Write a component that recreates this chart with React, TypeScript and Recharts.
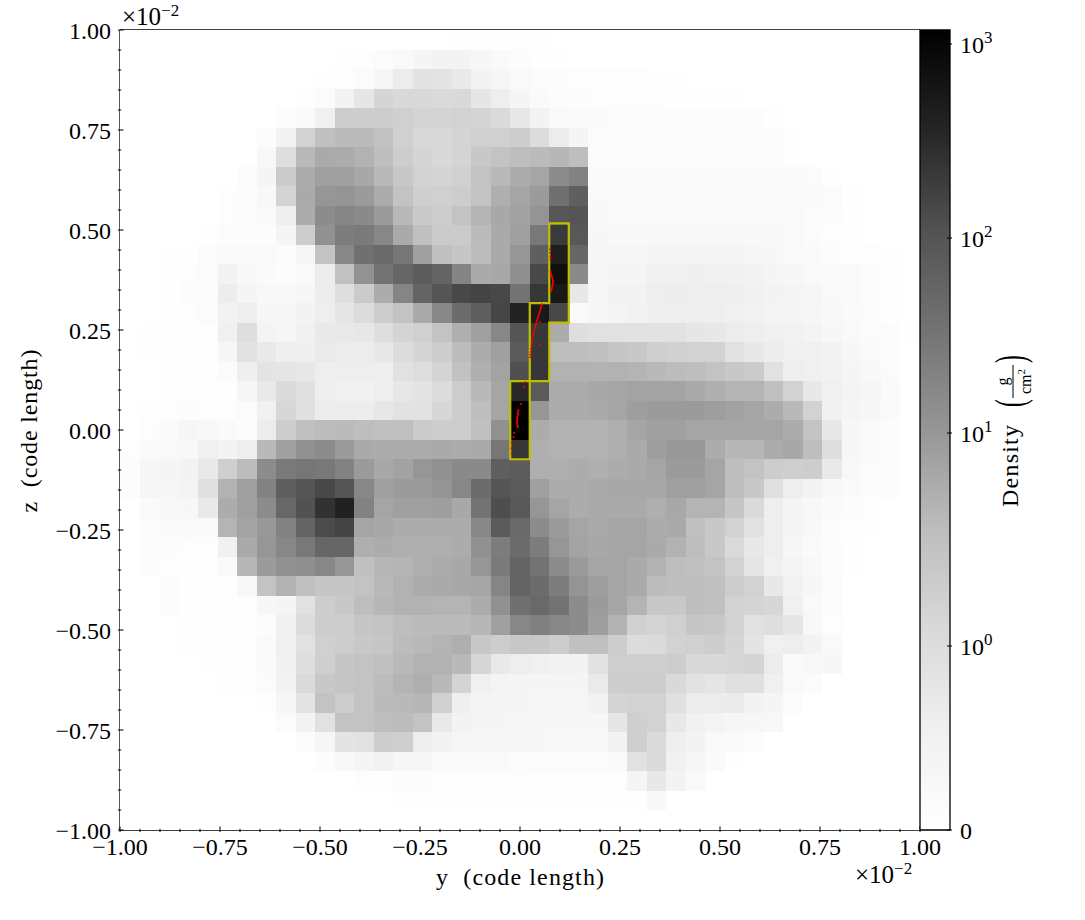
import React from 'react';
import { ScatterChart, Scatter, XAxis, YAxis, ReferenceArea } from 'recharts';

// grey level of each cell (255 = white); top row first,
// rows stop once the rest of the row is blank
const shadeRows: number[][] = [
  [255,255,255,255,255,255,255,255,255,255,255,255,255,255,255,255,255,254,254,254,254,254],
  [255,255,255,255,255,255,255,255,255,255,255,254,253,251,249,245,243,243,247,250,252,254,254],
  [255,255,255,255,255,255,255,255,255,255,254,253,251,246,236,226,228,233,243,246,249,251,252,253,253,253,253,254,254],
  [255,255,255,255,255,255,255,255,255,254,251,243,230,213,217,217,218,217,230,238,245,250,252,252,253,253,253,253,254,254,254,254],
  [255,255,255,255,255,255,255,255,252,250,240,205,205,205,208,212,212,210,213,218,231,243,249,250,250,252,252,252,252,252,252,252,252,254],
  [255,255,255,255,255,255,255,252,243,210,192,187,187,193,208,217,217,212,208,208,205,220,236,245,251,251,251,251,251,251,251,251,251,251,254],
  [255,255,255,255,255,255,255,248,222,185,170,172,178,190,205,213,217,212,200,195,190,187,183,190,251,251,251,251,251,251,251,251,251,251,254],
  [255,255,255,255,255,255,251,245,203,172,160,160,168,185,200,210,213,208,195,185,172,165,140,130,250,250,250,250,250,250,250,250,250,250,250,251,254],
  [255,255,255,255,255,253,252,248,212,170,150,148,155,172,195,207,208,205,195,175,165,155,112,95,249,249,249,249,249,249,249,249,249,249,249,250,251,254],
  [255,255,255,255,255,253,252,250,238,172,140,133,138,155,185,202,205,195,180,168,162,148,87,85,248,249,249,249,249,249,249,249,249,249,249,251,252,254],
  [255,255,255,255,254,252,252,252,245,205,145,125,122,135,170,192,203,203,187,170,160,120,58,88,247,248,248,248,248,248,248,248,248,248,249,251,253,254],
  [255,255,254,254,251,250,249,249,251,246,195,135,112,105,118,160,192,198,188,170,150,95,30,102,246,246,246,245,245,245,245,245,246,247,249,250,252,253,253,254],
  [255,255,254,253,251,243,248,250,252,249,236,193,146,115,102,92,100,132,170,168,143,72,15,138,246,245,245,241,240,239,240,241,242,245,247,249,250,250,252,254],
  [255,255,254,252,251,237,245,248,248,247,237,222,203,172,133,100,85,72,68,72,115,55,25,232,247,243,242,238,237,238,238,239,241,243,245,246,249,250,252,254],
  [255,255,254,253,251,242,238,247,246,243,238,229,220,205,195,170,135,108,95,70,35,25,72,249,247,244,242,239,238,238,238,240,242,244,245,246,248,250,251,254],
  [255,254,254,253,253,240,222,244,246,241,233,233,231,222,212,208,195,175,160,135,85,55,172,222,225,225,226,226,226,230,232,236,238,240,242,244,247,249,251,252,254],
  [255,254,254,254,254,247,226,233,239,239,234,236,236,231,220,213,205,188,172,160,90,55,190,190,192,198,200,207,209,210,210,225,232,237,240,240,242,247,249,252],
  [255,255,254,254,254,251,239,228,229,232,238,238,238,238,225,221,212,193,175,163,80,55,178,178,178,178,180,185,188,190,195,200,203,225,238,240,242,245,248,251],
  [255,255,254,254,254,254,246,233,218,224,238,240,241,238,231,228,220,204,185,165,40,90,172,172,168,165,163,163,163,170,175,180,180,192,210,232,240,244,246,250],
  [255,254,253,252,253,253,251,241,215,224,236,236,237,231,226,226,215,205,190,165,2,150,172,172,170,165,158,155,155,155,158,162,165,172,185,210,241,245,247,250],
  [255,253,250,246,248,250,252,236,205,192,188,187,190,192,192,203,205,205,192,145,0,172,178,178,178,175,165,160,160,165,165,165,165,165,172,195,232,247,250,252],
  [253,250,249,248,240,243,238,185,160,145,140,155,170,172,172,172,170,172,170,118,55,175,178,178,178,175,170,158,152,152,172,183,183,172,168,190,222,247,250,252],
  [252,246,245,243,233,207,188,140,122,118,120,130,155,168,162,150,145,138,138,95,92,175,175,172,175,172,170,165,155,155,165,190,195,205,207,205,233,248,251,252],
  [252,246,246,244,224,178,160,130,95,85,72,85,135,160,155,155,148,135,108,85,90,160,172,172,170,168,168,168,160,160,165,190,200,223,238,243,248,250,252,252],
  [255,250,248,247,233,172,160,140,103,82,50,33,130,165,160,160,158,168,115,78,88,150,165,172,170,170,170,175,168,180,180,198,218,238,245,248,250,252,253],
  [255,251,250,249,250,180,163,152,130,100,75,68,165,168,172,172,172,172,135,90,105,140,155,165,170,165,165,172,170,192,200,210,225,238,245,248,252,253,253],
  [255,252,252,253,253,241,170,150,135,120,102,102,175,172,175,175,175,172,145,125,108,125,150,163,168,165,165,170,178,190,200,218,232,238,246,250,252,254],
  [255,252,253,253,253,250,183,155,145,143,135,150,192,183,180,175,172,168,150,122,100,115,140,155,165,165,170,178,190,192,195,210,230,240,244,248,252,254],
  [255,255,252,254,254,254,248,195,178,192,198,198,195,185,178,172,170,168,165,133,100,108,125,148,158,165,170,188,190,190,192,205,210,232,242,247,252],
  [255,255,252,254,254,254,253,247,245,225,205,200,190,183,178,178,180,180,172,145,112,105,115,140,155,165,180,200,200,190,192,210,212,215,240,249,252],
  [255,255,255,254,254,254,253,252,241,220,205,205,197,195,190,187,187,187,183,160,135,128,135,140,158,178,208,212,208,198,200,210,225,222,230,248,253],
  [255,255,255,254,254,254,253,250,240,225,208,205,200,198,188,185,180,175,200,205,200,200,205,192,192,205,220,218,210,208,205,213,228,240,238,243,249],
  [255,255,255,255,254,254,253,250,241,222,207,198,195,192,185,178,178,185,215,233,238,240,242,243,226,207,207,207,205,216,216,215,213,236,250,248,247],
  [255,255,255,255,255,254,254,251,243,218,200,197,195,188,180,175,185,212,240,244,245,245,245,245,234,205,205,205,217,225,229,224,224,240,249,251],
  [255,255,255,255,255,255,255,253,247,228,195,205,195,187,185,182,208,239,244,245,245,246,246,246,242,213,210,210,224,236,236,235,243,245,251],
  [255,255,255,255,255,255,255,255,251,243,225,195,195,190,188,195,233,243,245,245,246,247,247,247,247,230,207,210,232,241,244,246,247,248],
  [255,255,255,255,255,255,255,255,255,251,246,228,226,205,207,238,243,246,246,246,247,247,248,248,248,243,207,218,239,243,249,250,251],
  [255,255,255,255,255,255,255,255,255,255,252,248,245,242,246,247,249,250,250,250,252,251,251,251,251,249,225,218,241,246,250,254],
  [255,255,255,255,255,255,255,255,255,255,255,255,253,254,252,252,253,253,253,253,253,253,253,253,253,253,245,232,243,250],
  [255,255,255,255,255,255,255,255,255,255,255,255,255,255,254,254,254,254,254,254,254,254,254,254,254,254,254,248],
  [],
];

const gridSize = 41;
const cellEdge = 2 / gridSize;

// yellow contour, in code length / 1e-2
const contourY = [-0.02439, 0.02439, 0.02439, 0.07317, 0.07317, 0.12195, 0.12195, 0.07317, 0.07317, 0.02439, 0.02439, -0.02439, -0.02439];
const contourZ = [0.12195, 0.12195, 0.31707, 0.31707, 0.5165, 0.5165, 0.26829, 0.26829, 0.12195, 0.12195, -0.07317, -0.07317, 0.12195];

// sink particles
const particleY = [0.075, 0.075, 0.0758, 0.0758, 0.0767, 0.077, 0.0783, 0.0795, 0.0808, 0.0817, 0.0825, 0.0825, 0.0825, 0.0817, 0.081, 0.08, 0.079, 0.0775, 0.0785, 0.078,
  0.055, 0.0538, 0.0525, 0.0512, 0.05, 0.0488, 0.0475, 0.0462, 0.045, 0.0438, 0.0425, 0.0412, 0.04, 0.0388, 0.0375, 0.0362, 0.035, 0.0338, 0.0325, 0.0312, 0.03, 0.0292, 0.0283, 0.0275, 0.0267, 0.0258, 0.025, 0.05, 0.0508,
  0.0133, 0.0108, 0.0017, -0.0042, -0.0042, -0.0058, -0.005, -0.0067, -0.006, -0.0075, -0.0067, -0.0075, -0.0067, -0.0058, -0.0058, -0.0142, -0.0167, -0.0208, -0.0217, -0.0208];
const particleZ = [0.4517, 0.4433, 0.4333, 0.425, 0.3958, 0.3917, 0.3875, 0.3842, 0.3808, 0.377, 0.3733, 0.37, 0.3683, 0.365, 0.361, 0.3567, 0.3533, 0.35, 0.3533, 0.3483,
  0.3142, 0.31, 0.3067, 0.3025, 0.2983, 0.294, 0.29, 0.286, 0.2817, 0.2775, 0.2733, 0.269, 0.265, 0.261, 0.2567, 0.251, 0.2458, 0.24, 0.235, 0.229, 0.2233, 0.2167, 0.21, 0.2033, 0.1958, 0.189, 0.1817, 0.2708, 0.2142,
  0.1192, 0.1083, 0.065, 0.05, 0.0458, 0.0417, 0.0375, 0.0333, 0.029, 0.025, 0.0208, 0.0167, 0.0133, 0.01, 0.0067, -0.0067, -0.0183, -0.0333, -0.0458, -0.0583];

const majorTicks = [-1, -0.75, -0.5, -0.25, 0, 0.25, 0.5, 0.75, 1];
const minorPerMajor = 5;
const allTicks: number[] = [];
majorTicks.slice(0, -1).forEach(t => {
  for (let i = 0; i < minorPerMajor; i++) allTicks.push(t + (i * 0.25) / minorPerMajor);
});
allTicks.push(1);

// colour bar: tick labels and where they sit on the 0..1 colour range
const cbarLabels = ['0', '0', '1', '2', '3'];
const cbarFractions = [0, 0.23, 0.49625, 0.74, 0.9825];
// matplotlib Greys
const greysStops = [255, 240, 217, 189, 150, 115, 82, 37, 0];

const cells = shadeRows.flatMap((row, r) =>
  Array.from({ length: gridSize }, (_, c) => ({
    y: -1 + (c + 0.5) * cellEdge,
    z: 1 - (r + 0.5) * cellEdge,
    shade: row[c] ?? 255,
  }))
);
const contour = contourY.map((y, i) => ({ y, z: contourZ[i] }));
const particles = particleY.map((y, i) => ({ y, z: particleZ[i] }));

const FONT = '"Liberation Serif", serif';
const PLOT = 800;
const MAJOR_LEN = 5.5;
const MINOR_LEN = 3.2;

const isMajor = (v: number) => majorTicks.some(t => Math.abs(t - v) < 1e-6);
const fmt = (v: number) => (v < 0 ? '\u2212' : '') + Math.abs(v).toFixed(2);
const tickLen = (v: number) => (isMajor(v) ? MAJOR_LEN : MINOR_LEN);

const BottomTick = ({ x, y, payload }: any) => (
  <g>
    <line x1={x} x2={x} y1={y} y2={y - tickLen(payload.value)} stroke="#000" strokeWidth={1} />
    {isMajor(payload.value) && (
      <text x={x} y={y + 23} textAnchor="middle" fontFamily={FONT} fontSize={24} fill="#000">{fmt(payload.value)}</text>
    )}
  </g>
);
const TopTick = ({ x, y, payload }: any) => (
  <line x1={x} x2={x} y1={y} y2={y + tickLen(payload.value)} stroke="#000" strokeWidth={1} />
);
const LeftTick = ({ x, y, payload }: any) => (
  <g>
    <line x1={x} x2={x + tickLen(payload.value)} y1={y} y2={y} stroke="#000" strokeWidth={1} />
    {isMajor(payload.value) && (
      <text x={x - 7} y={y + 8.5} textAnchor="end" fontFamily={FONT} fontSize={24} fill="#000">{fmt(payload.value)}</text>
    )}
  </g>
);
const RightTick = ({ x, y, payload }: any) => (
  <line x1={x} x2={x - tickLen(payload.value)} y1={y} y2={y} stroke="#000" strokeWidth={1} />
);
const CbarTick = ({ x, y, payload, index }: any) => (
  <g>
    <line x1={x} x2={x - 5} y1={y} y2={y} stroke="#000" strokeWidth={1} />
    <text x={x + 8} y={y + 8.5} fontFamily={FONT} fontSize={24} fill="#000">
      {index === 0 ? '0' : '10'}
      {index > 0 && <tspan fontSize={17} dy={-10}>{cbarLabels[index]}</tspan>}
    </text>
  </g>
);

const CellShape = (props: any) => {
  const w = PLOT / gridSize;
  const shade = props.shade ?? props.payload?.shade;
  return (
    <rect x={props.cx - w / 2} y={props.cy - w / 2} width={w} height={w}
      fill={`rgb(${shade},${shade},${shade})`} shapeRendering="crispEdges" />
  );
};
const ParticleShape = (props: any) => <circle cx={props.cx} cy={props.cy} r={1} fill="#ff0000" />;
const NoShape = () => null;

const OffsetText = ({ x, y }: { x: number; y: number }) => (
  <text x={x} y={y} fontFamily={FONT} fontSize={25} fill="#000">
    {'\u00d710'}<tspan fontSize={17} dy={-9}>{'\u22122'}</tspan>
  </text>
);

const App = () => (
  <div style={{ position: 'absolute', left: 0, top: 0, width: 1085, height: 920, background: '#fff' }}>
    <div style={{ position: 'absolute', left: 0, top: 0 }}>
      <ScatterChart width={1085} height={920} margin={{ left: 119, right: 164, top: 29, bottom: 89 }}>
        <Scatter data={cells} shape={CellShape} isAnimationActive={false} />
        <Scatter data={contour} shape={NoShape} line={{ stroke: '#bfbf00', strokeWidth: 2.2 }} isAnimationActive={false} />
        <Scatter data={particles} shape={ParticleShape} isAnimationActive={false} />
        <XAxis xAxisId={0} type="number" dataKey="y" domain={[-1, 1]} ticks={allTicks} interval={0} height={1}
          tickSize={0} tickLine={false} tick={BottomTick} axisLine={{ stroke: '#000', strokeWidth: 1.3 }} />
        <XAxis xAxisId="top" orientation="top" type="number" dataKey="y" domain={[-1, 1]} ticks={allTicks} interval={0} height={1}
          tickSize={0} tickLine={false} tick={TopTick} axisLine={{ stroke: '#000', strokeWidth: 1.3 }} />
        <YAxis yAxisId={0} type="number" dataKey="z" domain={[-1, 1]} ticks={allTicks} interval={0} width={1}
          tickSize={0} tickLine={false} tick={LeftTick} axisLine={{ stroke: '#000', strokeWidth: 1.3 }} />
        <YAxis yAxisId="right" orientation="right" type="number" dataKey="z" domain={[-1, 1]} ticks={allTicks} interval={0} width={1}
          tickSize={0} tickLine={false} tick={RightTick} axisLine={{ stroke: '#000', strokeWidth: 1.3 }} />
        <OffsetText x={122} y={25} />
        <OffsetText x={855} y={883} />
        <text x={520} y={885} textAnchor="middle" textLength={168} fontFamily={FONT} fontSize={24} fill="#000" style={{ whiteSpace: 'pre' }}>
          {'y  (code length)'}
        </text>
        <text transform="translate(37,431) rotate(-90)" textAnchor="middle" textLength={163} fontFamily={FONT} fontSize={24} fill="#000" style={{ whiteSpace: 'pre' }}>
          {'z  (code length)'}
        </text>
      </ScatterChart>
    </div>
    <div style={{ position: 'absolute', left: 0, top: 0 }}>
      <ScatterChart width={1085} height={920} margin={{ left: 920, right: 134, top: 30, bottom: 90 }}>
        <defs>
          <linearGradient id="greys" x1="0" y1="1" x2="0" y2="0">
            {greysStops.map((g, i) => (
              <stop key={i} offset={i / (greysStops.length - 1)} stopColor={`rgb(${g},${g},${g})`} />
            ))}
          </linearGradient>
        </defs>
        <XAxis type="number" dataKey="x" domain={[0, 1]} hide />
        <YAxis orientation="right" type="number" dataKey="t" domain={[0, 1]} ticks={cbarFractions} interval={0} width={1}
          tickSize={0} tickLine={false} tick={CbarTick} axisLine={false} />
        <ReferenceArea x1={0} x2={1} y1={0} y2={1} fill="url(#greys)" fillOpacity={1} stroke="#000" strokeWidth={1.3} />
        <Scatter data={[{ x: 0, t: 0 }, { x: 1, t: 1 }]} shape={NoShape} isAnimationActive={false} />
        <g transform="translate(1018,431) rotate(-90)" fontFamily={FONT} fill="#000">
          <text x={-76} y={0} fontSize={24} textLength={82}>Density</text>
          <text transform="translate(24,6) scale(0.55,1)" fontSize={42}>(</text>
          <text transform="translate(68,6) scale(0.55,1)" fontSize={42}>)</text>
          <line x1={33} x2={66} y1={-5} y2={-5} stroke="#000" strokeWidth={1} />
          <text x={49.5} y={-10} fontSize={16} textAnchor="middle">g</text>
          <text x={49.5} y={13} fontSize={16} textAnchor="middle">cm<tspan fontSize={11} dy={-6}>2</tspan></text>
        </g>
      </ScatterChart>
    </div>
  </div>
);

export default App;
